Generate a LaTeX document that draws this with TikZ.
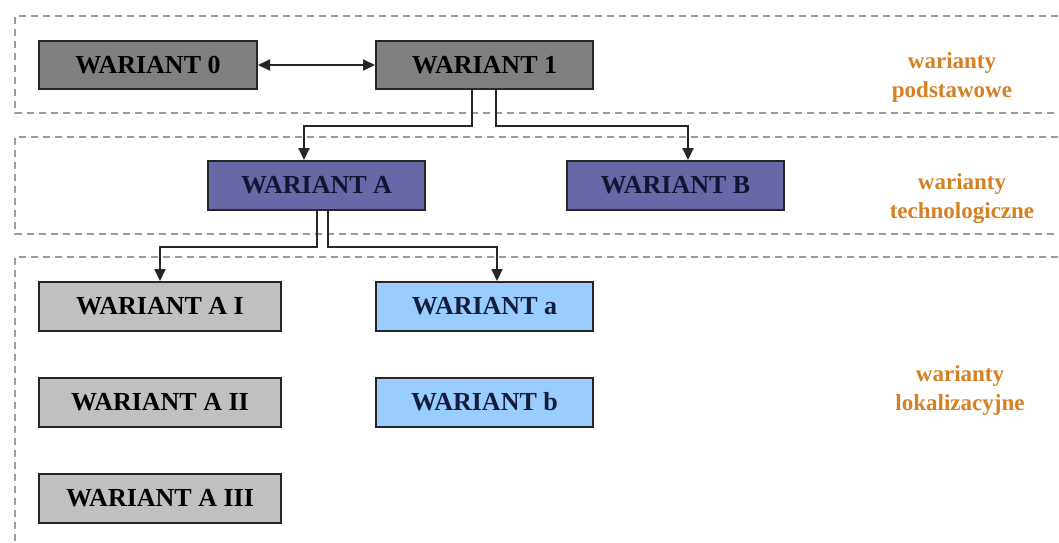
\documentclass[tikz,border=0pt]{standalone}
\usepackage{fontspec}
\setmainfont{Liberation Serif}
\usetikzlibrary{arrows.meta}
\definecolor{boxdark}{RGB}{128,128,128}
\definecolor{boxtech}{RGB}{104,104,168}
\definecolor{boxlight}{RGB}{192,192,192}
\definecolor{boxblue}{RGB}{153,204,255}
\definecolor{labelorange}{RGB}{214,128,36}
\definecolor{zoneline}{RGB}{160,155,140}
\definecolor{techtext}{RGB}{20,20,50}
\definecolor{bluetext}{RGB}{20,30,60}
\tikzset{
  varbox/.style={draw=black!85, line width=2pt, minimum width=217pt, minimum height=48pt,
    inner sep=0pt, font=\fontsize{26}{28}\selectfont\bfseries},
  zone/.style={draw=zoneline, line width=1.2pt, dash pattern=on 7pt off 5pt},
  tip/.style={Triangle[length=12pt,width=11pt]},
  conn/.style={draw=black!85, line width=2pt, -{Triangle[length=12pt,width=11pt]}},
  zonelabel/.style={text=labelorange, align=center, font=\fontsize{23}{29}\selectfont\bfseries},
}
\begin{document}
\begin{tikzpicture}[x=1pt,y=-1pt]
\useasboundingbox (0,0) rectangle (1059,542);
\fill[white] (0,0) rectangle (1059,542);
\begin{scope}
  \clip (0,0) rectangle (1059,542);
  % the three bands of variants
  \draw[zone] (1070,16) -- (15,16) -- (15,113) -- (1070,113);
  \draw[zone] (1070,137) -- (15,137) -- (15,234) -- (1070,234);
  \draw[zone] (1070,257) -- (15,257) -- (15,550);
\end{scope}

% basic variants
\node[varbox, fill=boxdark, minimum width=218pt] (w0) at (148,65) {WARIANT 0};
\node[varbox, fill=boxdark] (w1) at (484.5,65) {WARIANT 1};
% technological variants
\node[varbox, fill=boxtech, minimum height=49pt, text=techtext] (wA) at (316.5,185.5) {WARIANT A};
\node[varbox, fill=boxtech, minimum height=49pt, text=techtext] (wB) at (675.5,185.5) {WARIANT B};
% location variants
\node[varbox, fill=boxlight, minimum width=242pt, minimum height=49pt] (wAI) at (160,306.5) {WARIANT A I};
\node[varbox, fill=boxlight, minimum width=242pt, minimum height=49pt] (wAII) at (160,402) {WARIANT A II};
\node[varbox, fill=boxlight, minimum width=242pt, minimum height=49pt] (wAIII) at (160,498) {WARIANT A III};
\node[varbox, fill=boxblue, minimum height=49pt, text=bluetext] (wa) at (484.5,306.5) {WARIANT a};
\node[varbox, fill=boxblue, minimum height=49pt, text=bluetext] (wb) at (484.5,402) {WARIANT b};

% connectors
\draw[conn, {Triangle[length=12pt,width=11pt]}-{Triangle[length=12pt,width=11pt]}] (w0.east) -- (w1.west);
\draw[conn] ([xshift=-12.5pt]w1.south) -- ++(0,36) -| ([xshift=-12.5pt]wA.north);
\draw[conn] ([xshift=11.5pt]w1.south) -- ++(0,36) -| ([xshift=12.5pt]wB.north);
\draw[conn] (wA.south) -- ++(0,36) -| (wAI.north);
\draw[conn] ([xshift=11pt]wA.south) -- ++(0,36) -| ([xshift=12.5pt]wa.north);

% band labels
\node[zonelabel] (l1) at (952,77) {warianty\\podstawowe};
\node[zonelabel] (l2) at (962,199) {warianty\\technologiczne};
\node[zonelabel] (l3) at (960,390) {warianty\\lokalizacyjne};
\end{tikzpicture}
\end{document}
